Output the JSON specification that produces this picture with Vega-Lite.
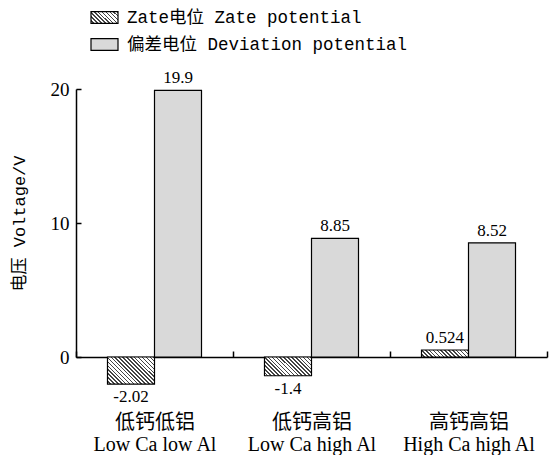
{
  "$schema": "https://vega.github.io/schema/vega-lite/v6.json",
  "autosize": "none",
  "width": 471,
  "height": 268,
  "padding": {"left": 76, "top": 89, "right": 3, "bottom": 98},
  "background": "white",
  "config": {"view": {"stroke": null}},
  "data": {"values": [
    {"cat": "低钙低铝|Low Ca low Al", "series": "Zate电位 Zate potential", "value": -2.02, "lab": "-2.02"},
    {"cat": "低钙低铝|Low Ca low Al", "series": "偏差电位 Deviation potential", "value": 19.9, "lab": "19.9"},
    {"cat": "低钙高铝|Low Ca high Al", "series": "Zate电位 Zate potential", "value": -1.4, "lab": "-1.4"},
    {"cat": "低钙高铝|Low Ca high Al", "series": "偏差电位 Deviation potential", "value": 8.85, "lab": "8.85"},
    {"cat": "高钙高铝|High Ca high Al", "series": "Zate电位 Zate potential", "value": 0.524, "lab": "0.524"},
    {"cat": "高钙高铝|High Ca high Al", "series": "偏差电位 Deviation potential", "value": 8.52, "lab": "8.52"}
  ]},
  "encoding": {
    "x": {"field": "cat", "type": "nominal", "sort": null,
      "scale": {"paddingInner": 0, "paddingOuter": 0},
      "axis": {"title": null, "labelAngle": 0, "labelExpr": "split(datum.label, '|')",
        "labelFont": "Liberation Serif, Noto Sans CJK SC", "labelFontSize": 20, "labelLineHeight": 22,
        "labelColor": "black", "labelPadding": 61, "labelBaseline": "top",
        "tickBand": "extent", "tickSize": -6, "tickColor": "black", "tickWidth": 1.5,
        "domainColor": "black", "domainWidth": 1.5}},
    "xOffset": {"field": "series", "type": "nominal", "sort": null,
      "scale": {"paddingInner": 0, "paddingOuter": 0.67}},
    "y": {"field": "value", "type": "quantitative",
      "scale": {"domain": [0, 20], "nice": false, "zero": false},
      "axis": {"title": "电压 Voltage/V", "values": [0, 10, 20], "grid": false,
        "titleFont": "Liberation Mono, Noto Sans CJK SC", "titleFontSize": 17, "titleFontWeight": "normal", "titleColor": "black", "titlePadding": 22,
        "labelFont": "Liberation Serif", "labelFontSize": 19, "labelColor": "black", "labelPadding": 12,
        "tickSize": -5, "tickColor": "black", "tickWidth": 1.5,
        "domainColor": "black", "domainWidth": 1.5}}
  },
  "layer": [
    {
      "mark": {"type": "bar", "stroke": "black", "strokeWidth": 1.2},
      "encoding": {
        "fill": {"field": "series", "type": "nominal", "sort": null,
          "scale": {"domain": ["Zate电位 Zate potential", "偏差电位 Deviation potential"], "range": [
            {"expr": "{gradient:'linear',x1:0,y1:1,x2:1.206,y2:0.464,stops:[{offset:0,color:'#fff'},{offset:0.06,color:'#fff'},{offset:0.06,color:'#444'},{offset:0.1,color:'#444'},{offset:0.1,color:'#fff'},{offset:0.16,color:'#fff'},{offset:0.16,color:'#444'},{offset:0.2,color:'#444'},{offset:0.2,color:'#fff'},{offset:0.26,color:'#fff'},{offset:0.26,color:'#444'},{offset:0.3,color:'#444'},{offset:0.3,color:'#fff'},{offset:0.36,color:'#fff'},{offset:0.36,color:'#444'},{offset:0.4,color:'#444'},{offset:0.4,color:'#fff'},{offset:0.46,color:'#fff'},{offset:0.46,color:'#444'},{offset:0.5,color:'#444'},{offset:0.5,color:'#fff'},{offset:0.56,color:'#fff'},{offset:0.56,color:'#444'},{offset:0.6,color:'#444'},{offset:0.6,color:'#fff'},{offset:0.66,color:'#fff'},{offset:0.66,color:'#444'},{offset:0.7,color:'#444'},{offset:0.7,color:'#fff'},{offset:0.76,color:'#fff'},{offset:0.76,color:'#444'},{offset:0.8,color:'#444'},{offset:0.8,color:'#fff'},{offset:0.86,color:'#fff'},{offset:0.86,color:'#444'},{offset:0.9,color:'#444'},{offset:0.9,color:'#fff'},{offset:0.96,color:'#fff'},{offset:0.96,color:'#444'},{offset:1,color:'#444'}]}"},
            "#d9d9d9"]},
          "condition": [
            {"test": "datum.value == -2.02", "value": {"gradient": "linear", "x1": 0, "y1": 1, "x2": 1.183, "y2": 0.318, "stops": [
              {"offset": 0, "color": "#fff"}, {"offset": 0.0316, "color": "#fff"}, {"offset": 0.0316, "color": "#444"}, {"offset": 0.0526, "color": "#444"},
              {"offset": 0.0526, "color": "#fff"}, {"offset": 0.0842, "color": "#fff"}, {"offset": 0.0842, "color": "#444"}, {"offset": 0.1053, "color": "#444"},
              {"offset": 0.1053, "color": "#fff"}, {"offset": 0.1368, "color": "#fff"}, {"offset": 0.1368, "color": "#444"}, {"offset": 0.1579, "color": "#444"},
              {"offset": 0.1579, "color": "#fff"}, {"offset": 0.1895, "color": "#fff"}, {"offset": 0.1895, "color": "#444"}, {"offset": 0.2105, "color": "#444"},
              {"offset": 0.2105, "color": "#fff"}, {"offset": 0.2421, "color": "#fff"}, {"offset": 0.2421, "color": "#444"}, {"offset": 0.2632, "color": "#444"},
              {"offset": 0.2632, "color": "#fff"}, {"offset": 0.2947, "color": "#fff"}, {"offset": 0.2947, "color": "#444"}, {"offset": 0.3158, "color": "#444"},
              {"offset": 0.3158, "color": "#fff"}, {"offset": 0.3474, "color": "#fff"}, {"offset": 0.3474, "color": "#444"}, {"offset": 0.3684, "color": "#444"},
              {"offset": 0.3684, "color": "#fff"}, {"offset": 0.4, "color": "#fff"}, {"offset": 0.4, "color": "#444"}, {"offset": 0.4211, "color": "#444"},
              {"offset": 0.4211, "color": "#fff"}, {"offset": 0.4526, "color": "#fff"}, {"offset": 0.4526, "color": "#444"}, {"offset": 0.4737, "color": "#444"},
              {"offset": 0.4737, "color": "#fff"}, {"offset": 0.5053, "color": "#fff"}, {"offset": 0.5053, "color": "#444"}, {"offset": 0.5263, "color": "#444"},
              {"offset": 0.5263, "color": "#fff"}, {"offset": 0.5579, "color": "#fff"}, {"offset": 0.5579, "color": "#444"}, {"offset": 0.5789, "color": "#444"},
              {"offset": 0.5789, "color": "#fff"}, {"offset": 0.6105, "color": "#fff"}, {"offset": 0.6105, "color": "#444"}, {"offset": 0.6316, "color": "#444"},
              {"offset": 0.6316, "color": "#fff"}, {"offset": 0.6632, "color": "#fff"}, {"offset": 0.6632, "color": "#444"}, {"offset": 0.6842, "color": "#444"},
              {"offset": 0.6842, "color": "#fff"}, {"offset": 0.7158, "color": "#fff"}, {"offset": 0.7158, "color": "#444"}, {"offset": 0.7368, "color": "#444"},
              {"offset": 0.7368, "color": "#fff"}, {"offset": 0.7684, "color": "#fff"}, {"offset": 0.7684, "color": "#444"}, {"offset": 0.7895, "color": "#444"},
              {"offset": 0.7895, "color": "#fff"}, {"offset": 0.8211, "color": "#fff"}, {"offset": 0.8211, "color": "#444"}, {"offset": 0.8421, "color": "#444"},
              {"offset": 0.8421, "color": "#fff"}, {"offset": 0.8737, "color": "#fff"}, {"offset": 0.8737, "color": "#444"}, {"offset": 0.8947, "color": "#444"},
              {"offset": 0.8947, "color": "#fff"}, {"offset": 0.9263, "color": "#fff"}, {"offset": 0.9263, "color": "#444"}, {"offset": 0.9474, "color": "#444"},
              {"offset": 0.9474, "color": "#fff"}, {"offset": 0.9789, "color": "#fff"}, {"offset": 0.9789, "color": "#444"}, {"offset": 1, "color": "#444"}
            ]}},
            {"test": "datum.value == -1.4", "value": {"gradient": "linear", "x1": 0, "y1": 1, "x2": 1.207, "y2": 0.517, "stops": [
              {"offset": 0, "color": "#fff"}, {"offset": 0.0353, "color": "#fff"}, {"offset": 0.0353, "color": "#444"}, {"offset": 0.0588, "color": "#444"},
              {"offset": 0.0588, "color": "#fff"}, {"offset": 0.0941, "color": "#fff"}, {"offset": 0.0941, "color": "#444"}, {"offset": 0.1176, "color": "#444"},
              {"offset": 0.1176, "color": "#fff"}, {"offset": 0.1529, "color": "#fff"}, {"offset": 0.1529, "color": "#444"}, {"offset": 0.1765, "color": "#444"},
              {"offset": 0.1765, "color": "#fff"}, {"offset": 0.2118, "color": "#fff"}, {"offset": 0.2118, "color": "#444"}, {"offset": 0.2353, "color": "#444"},
              {"offset": 0.2353, "color": "#fff"}, {"offset": 0.2706, "color": "#fff"}, {"offset": 0.2706, "color": "#444"}, {"offset": 0.2941, "color": "#444"},
              {"offset": 0.2941, "color": "#fff"}, {"offset": 0.3294, "color": "#fff"}, {"offset": 0.3294, "color": "#444"}, {"offset": 0.3529, "color": "#444"},
              {"offset": 0.3529, "color": "#fff"}, {"offset": 0.3882, "color": "#fff"}, {"offset": 0.3882, "color": "#444"}, {"offset": 0.4118, "color": "#444"},
              {"offset": 0.4118, "color": "#fff"}, {"offset": 0.4471, "color": "#fff"}, {"offset": 0.4471, "color": "#444"}, {"offset": 0.4706, "color": "#444"},
              {"offset": 0.4706, "color": "#fff"}, {"offset": 0.5059, "color": "#fff"}, {"offset": 0.5059, "color": "#444"}, {"offset": 0.5294, "color": "#444"},
              {"offset": 0.5294, "color": "#fff"}, {"offset": 0.5647, "color": "#fff"}, {"offset": 0.5647, "color": "#444"}, {"offset": 0.5882, "color": "#444"},
              {"offset": 0.5882, "color": "#fff"}, {"offset": 0.6235, "color": "#fff"}, {"offset": 0.6235, "color": "#444"}, {"offset": 0.6471, "color": "#444"},
              {"offset": 0.6471, "color": "#fff"}, {"offset": 0.6824, "color": "#fff"}, {"offset": 0.6824, "color": "#444"}, {"offset": 0.7059, "color": "#444"},
              {"offset": 0.7059, "color": "#fff"}, {"offset": 0.7412, "color": "#fff"}, {"offset": 0.7412, "color": "#444"}, {"offset": 0.7647, "color": "#444"},
              {"offset": 0.7647, "color": "#fff"}, {"offset": 0.8, "color": "#fff"}, {"offset": 0.8, "color": "#444"}, {"offset": 0.8235, "color": "#444"},
              {"offset": 0.8235, "color": "#fff"}, {"offset": 0.8588, "color": "#fff"}, {"offset": 0.8588, "color": "#444"}, {"offset": 0.8824, "color": "#444"},
              {"offset": 0.8824, "color": "#fff"}, {"offset": 0.9176, "color": "#fff"}, {"offset": 0.9176, "color": "#444"}, {"offset": 0.9412, "color": "#444"},
              {"offset": 0.9412, "color": "#fff"}, {"offset": 0.9765, "color": "#fff"}, {"offset": 0.9765, "color": "#444"}, {"offset": 1, "color": "#444"}
            ]}},
            {"test": "datum.value == 0.524", "value": {"gradient": "linear", "x1": 0, "y1": 1, "x2": 1.124, "y2": 0.833, "stops": [
              {"offset": 0, "color": "#fff"}, {"offset": 0.0429, "color": "#fff"}, {"offset": 0.0429, "color": "#444"}, {"offset": 0.0714, "color": "#444"},
              {"offset": 0.0714, "color": "#fff"}, {"offset": 0.1143, "color": "#fff"}, {"offset": 0.1143, "color": "#444"}, {"offset": 0.1429, "color": "#444"},
              {"offset": 0.1429, "color": "#fff"}, {"offset": 0.1857, "color": "#fff"}, {"offset": 0.1857, "color": "#444"}, {"offset": 0.2143, "color": "#444"},
              {"offset": 0.2143, "color": "#fff"}, {"offset": 0.2571, "color": "#fff"}, {"offset": 0.2571, "color": "#444"}, {"offset": 0.2857, "color": "#444"},
              {"offset": 0.2857, "color": "#fff"}, {"offset": 0.3286, "color": "#fff"}, {"offset": 0.3286, "color": "#444"}, {"offset": 0.3571, "color": "#444"},
              {"offset": 0.3571, "color": "#fff"}, {"offset": 0.4, "color": "#fff"}, {"offset": 0.4, "color": "#444"}, {"offset": 0.4286, "color": "#444"},
              {"offset": 0.4286, "color": "#fff"}, {"offset": 0.4714, "color": "#fff"}, {"offset": 0.4714, "color": "#444"}, {"offset": 0.5, "color": "#444"},
              {"offset": 0.5, "color": "#fff"}, {"offset": 0.5429, "color": "#fff"}, {"offset": 0.5429, "color": "#444"}, {"offset": 0.5714, "color": "#444"},
              {"offset": 0.5714, "color": "#fff"}, {"offset": 0.6143, "color": "#fff"}, {"offset": 0.6143, "color": "#444"}, {"offset": 0.6429, "color": "#444"},
              {"offset": 0.6429, "color": "#fff"}, {"offset": 0.6857, "color": "#fff"}, {"offset": 0.6857, "color": "#444"}, {"offset": 0.7143, "color": "#444"},
              {"offset": 0.7143, "color": "#fff"}, {"offset": 0.7571, "color": "#fff"}, {"offset": 0.7571, "color": "#444"}, {"offset": 0.7857, "color": "#444"},
              {"offset": 0.7857, "color": "#fff"}, {"offset": 0.8286, "color": "#fff"}, {"offset": 0.8286, "color": "#444"}, {"offset": 0.8571, "color": "#444"},
              {"offset": 0.8571, "color": "#fff"}, {"offset": 0.9, "color": "#fff"}, {"offset": 0.9, "color": "#444"}, {"offset": 0.9286, "color": "#444"},
              {"offset": 0.9286, "color": "#fff"}, {"offset": 0.9714, "color": "#fff"}, {"offset": 0.9714, "color": "#444"}, {"offset": 1, "color": "#444"}
            ]}}
          ],
          "legend": {"title": null, "orient": "none", "legendX": 14, "legendY": -86, "padding": 0,
            "symbolType": "M-1,-0.44H1V0.44H-1Z", "symbolSize": 729, "symbolStrokeColor": "black", "symbolStrokeWidth": 1.2,
            "labelFont": "Liberation Mono, Noto Sans CJK SC", "labelFontSize": 17.5, "labelColor": "black", "labelOffset": 8, "labelLimit": 500,
            "rowPadding": 4,
            "encode": {"symbols": {"update": {
              "stroke": {"value": "black"},
              "strokeWidth": {"value": 1.2},
              "opacity": {"value": 1}
            }}}
          }
        }
      }
    },
    {
      "transform": [{"filter": "datum.value >= 0"}],
      "mark": {"type": "text", "baseline": "bottom", "dy": -3, "font": "Liberation Serif", "fontSize": 17, "color": "black"},
      "encoding": {"text": {"field": "lab"}}
    },
    {
      "transform": [{"filter": "datum.value < 0"}],
      "mark": {"type": "text", "baseline": "top", "dy": 5, "font": "Liberation Serif", "fontSize": 17, "color": "black"},
      "encoding": {"text": {"field": "lab"}}
    }
  ]
}
